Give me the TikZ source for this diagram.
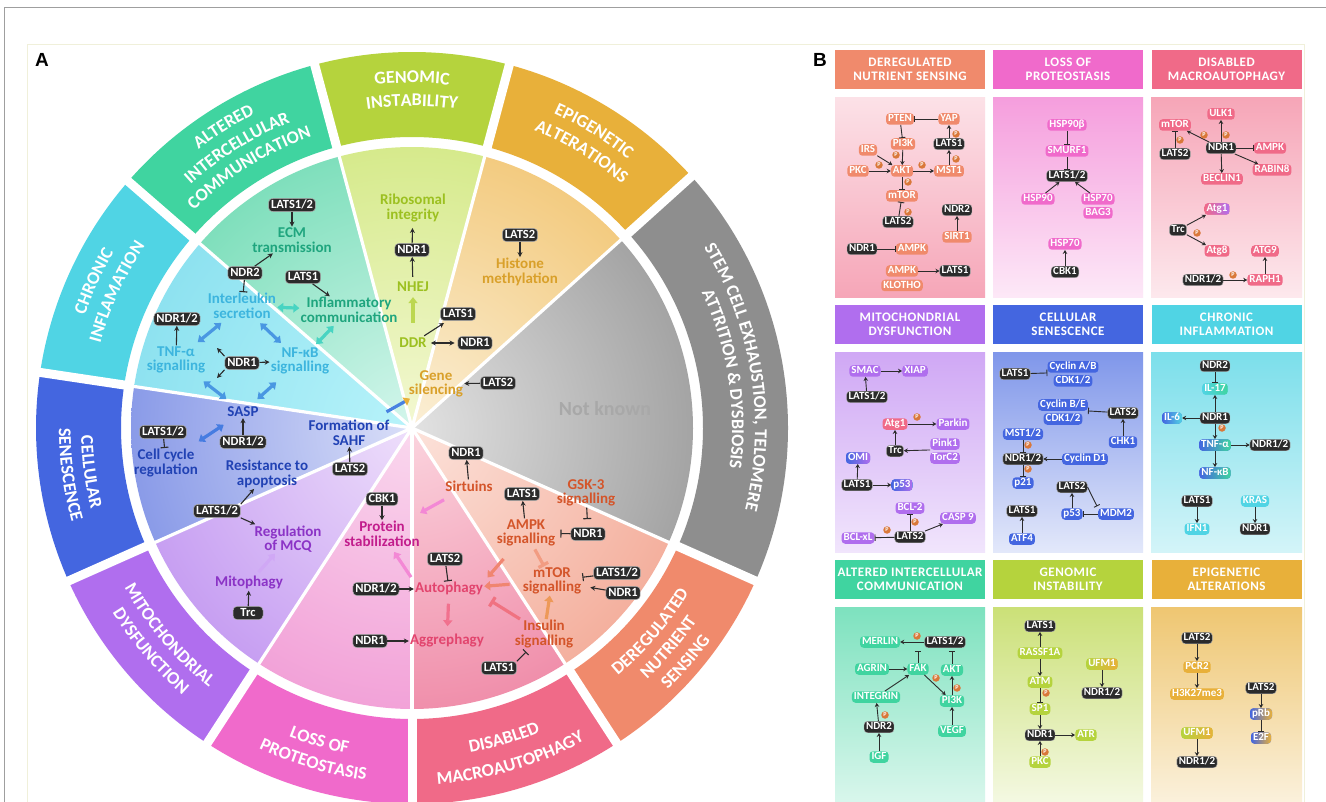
\documentclass[tikz,border=0pt]{standalone}
\usepackage{fontspec}
\setmainfont{Carlito}
\newfontfamily\hdrfam{Carlito}[LetterSpace=4]
\newfontfamily\panfam{Liberation Sans}
\usepackage{tikz}
\usetikzlibrary{arrows.meta,decorations.text}

\definecolor{kinase}{HTML}{2B2B2B}
\definecolor{phos}{HTML}{D9783A}
\definecolor{pale}{HTML}{F0F0DA}
\definecolor{genR}{HTML}{B5D33D}
\definecolor{epiR}{HTML}{E8B03A}
\definecolor{stmR}{HTML}{8E8E8E}
\definecolor{derR}{HTML}{F08A6C}
\definecolor{macR}{HTML}{F06A88}
\definecolor{proR}{HTML}{F06ACB}
\definecolor{mitR}{HTML}{B06EEE}
\definecolor{senR}{HTML}{4466E0}
\definecolor{chrR}{HTML}{50D4E4}
\definecolor{altR}{HTML}{40D4A0}
\definecolor{genT}{HTML}{9CC020}
\definecolor{epiT}{HTML}{D9A02A}
\definecolor{derT}{HTML}{D4552A}
\definecolor{macT}{HTML}{E2456E}
\definecolor{proT}{HTML}{C21D8C}
\definecolor{mitT}{HTML}{8B33C6}
\definecolor{senT}{HTML}{2142B4}
\definecolor{chrT}{HTML}{3DB5DE}
\definecolor{altT}{HTML}{1FA57E}
\definecolor{nkT}{HTML}{A8A8A8}

\newcommand\labfont{\fontsize{15}{14.5}\selectfont\bfseries}
\newcommand\kinfont{\fontsize{12.5}{12}\selectfont\bfseries}
\newcommand\boxfont{\fontsize{11}{10.5}\selectfont\bfseries}
\newcommand\hdrfont{\hdrfam\fontsize{13}{14}\selectfont\bfseries}
\newcommand\ringfont{\fontsize{18}{18}\selectfont\bfseries\color{white}}
\newcommand\phosfont{\fontsize{6}{6}\selectfont\bfseries}
\newcommand\nkfont{\fontsize{20}{20}\selectfont\bfseries}

\definecolor{wedgein}{HTML}{FFFFFF}
\definecolor{wedgeout}{HTML}{CCCCCC}
\pgfdeclareradialshading[wedgein,wedgeout]{wedge}{\pgfpointorigin}{color(0bp)=(wedgein); color(25bp)=(wedgeout); color(50bp)=(wedgeout)}

\newcommand\hallsector[5]{%
  \definecolor{wedgein}{HTML}{#3}\definecolor{wedgeout}{HTML}{#4}%
  \begin{scope}
    \clip (0,0) -- (#1:281) arc[start angle=#1, end angle=#2, radius=281] -- cycle;
    \shade[shading=wedge] (0,0) circle (281);
  \end{scope}
  \fill[#5] (#1:291) arc[start angle=#1, end angle=#2, radius=291]
    -- (#2:376) arc[start angle=#2, end angle=#1, radius=376] -- cycle;}
\newcommand\ringtext[4]{%
  \path[decorate, decoration={text along path, text align=center,
    text={|\ringfont|#4}}] (#2:#1) arc[start angle=#2, end angle=#3, radius=#1];}

\begin{document}
\begin{tikzpicture}[x=1pt, y=-1pt,
  lab/.style={font=\labfont, align=center, text=#1, inner sep=1pt},
  kin/.style={fill=kinase, draw=white!70!black, line width=0.5pt, text=white, rounded corners=4pt,
    font=\kinfont, inner xsep=2.5pt, inner ysep=1pt, text height=8.8pt, text depth=2.4pt},
  act/.style={draw=kinase, line width=1.1pt, -{Stealth[length=5pt,width=5pt]}},
  inh/.style={draw=kinase, line width=1.1pt, -{Bar[width=8pt]}},
  both/.style={draw=kinase, line width=1.1pt, {Stealth[length=5pt,width=5pt]}-{Stealth[length=5pt,width=5pt]}},
  fat/.style={draw=#1, line width=3.2pt, -{Triangle[length=6pt,width=9pt]}},
  fatd/.style={draw=#1, line width=3.2pt, {Triangle[length=6pt,width=9pt]}-{Triangle[length=6pt,width=9pt]}},
  fati/.style={draw=#1, line width=3.2pt, -{Bar[width=11pt]}},
  hdr/.style={fill=#1, text=white, font=\hdrfont, align=center, minimum width=150pt, minimum height=39pt, inner sep=0pt},
  pb/.style={fill=#1, text=white, rounded corners=3.5pt, font=\boxfont, inner xsep=2pt, inner ysep=0.7pt,
    text height=8pt, text depth=2.1pt},
  pbk/.style={pb=kinase, draw=white!70!black, line width=0.4pt},
  pbs/.style 2 args={pb=#1, left color=#1, right color=#2},
  ba/.style={draw=kinase, line width=0.9pt, -{Stealth[length=4pt,width=4.5pt]}},
  bi/.style={draw=kinase, line width=0.9pt, -{Bar[width=6.5pt]}},
  pho/.style={circle, fill=phos, text=white, font=\phosfont, inner sep=0pt, minimum size=7.5pt}]

\useasboundingbox (0,0) rectangle (1326,802);
\fill[white] (0,0) rectangle (1326,802);
\draw[gray!75, line width=1.5pt] (4.5,802) -- (4.5,7.5) -- (1326,7.5);
\draw[pale, line width=1pt] (27,802) -- (27,44.5) -- (1304,44.5) -- (1304,802);
\node[font=\panfam\fontsize{19}{19}\selectfont\bfseries] (pA) at (42,60) {A};
\node[font=\panfam\fontsize{19}{19}\selectfont\bfseries] (pB) at (820,60) {B};

\begin{scope}[shift={(412,428)}]
\hallsector{-105}{-75}{F3F8D2}{D6EA8C}{genR}
\hallsector{-75}{-42}{FBEFD6}{F3CB80}{epiR}
\hallsector{-42}{24}{E2E2E2}{A4A4A4}{stmR}
\hallsector{24}{57}{FCE2DA}{F4B09E}{derR}
\hallsector{57}{90}{FBD4DE}{F08FAB}{macR}
\hallsector{90}{123}{FAD8EE}{F2A2D8}{proR}
\hallsector{123}{156}{EEDFFB}{C79FF2}{mitR}
\hallsector{156}{188.5}{DADFF8}{8A9BE8}{senR}
\hallsector{188.5}{221}{B8F3FA}{8EE2F0}{chrR}
\hallsector{221}{255}{D4F6EC}{7FDFBC}{altR}
\draw[white, line width=3.2pt] (0,0) -- (-105:285);
\draw[white, line width=3.2pt] (0,0) -- (-75:285);
\draw[white, line width=3.2pt] (0,0) -- (-42:285);
\draw[white, line width=3.2pt] (0,0) -- (24:285);
\draw[white, line width=3.2pt] (0,0) -- (57:285);
\draw[white, line width=3.2pt] (0,0) -- (90:285);
\draw[white, line width=3.2pt] (0,0) -- (123:285);
\draw[white, line width=3.2pt] (0,0) -- (156:285);
\draw[white, line width=3.2pt] (0,0) -- (188.5:285);
\draw[white, line width=3.2pt] (0,0) -- (221:285);
\draw[white, line width=9pt] (-105:284) -- (-105:382);
\draw[white, line width=9pt] (-75:284) -- (-75:382);
\draw[white, line width=9pt] (-42:284) -- (-42:382);
\draw[white, line width=9pt] (24:284) -- (24:382);
\draw[white, line width=9pt] (57:284) -- (57:382);
\draw[white, line width=9pt] (90:284) -- (90:382);
\draw[white, line width=9pt] (123:284) -- (123:382);
\draw[white, line width=9pt] (156:284) -- (156:382);
\draw[white, line width=9pt] (188.5:284) -- (188.5:382);
\draw[white, line width=9pt] (221:284) -- (221:382);
\ringtext{345}{-105}{-75}{GENOMIC}
\ringtext{322}{-105}{-75}{INSTABILITY}
\ringtext{345}{-75}{-42}{EPIGENETIC}
\ringtext{322}{-75}{-42}{ALTERATIONS}
\ringtext{343}{-42}{24}{STEM CELL EXHAUSTION, TELOMERE}
\ringtext{320}{-42}{24}{ATTRITION {\&} DYSBIOSIS}
\ringtext{322}{57}{24}{DEREGULATED}
\ringtext{344}{57}{24}{NUTRIENT}
\ringtext{366}{57}{24}{SENSING}
\ringtext{330}{90}{57}{DISABLED}
\ringtext{357}{90}{57}{MACROAUTOPHAGY}
\ringtext{332}{123}{90}{LOSS OF}
\ringtext{355}{123}{90}{PROTEOSTASIS}
\ringtext{329}{156}{123}{MITOCHONDRIAL}
\ringtext{352}{156}{123}{DYSFUNCTION}
\ringtext{331}{188.5}{156}{CELLULAR}
\ringtext{353}{188.5}{156}{SENESCENCE}
\ringtext{346}{188.5}{221}{CHRONIC}
\ringtext{323}{188.5}{221}{INFLAMATION}
\ringtext{351}{221}{255}{ALTERED}
\ringtext{329}{221}{255}{INTERCELLULAR}
\ringtext{308}{221}{255}{COMMUNICATION}
\end{scope}

\node[lab=altT] (ecm) at (292,240) {ECM\\transmission};
\node[lab=altT] (infl) at (349,310) {Inflammatory\\communication};
\node[lab=chrT] (ilk) at (242,306) {Interleukin\\secretion};
\node[lab=chrT] (tnf) at (176,360) {TNF-α\\signalling};
\node[lab=chrT] (nfkb) at (300,361) {NF-κB\\signalling};
\node[lab=senT] (sasp) at (243,412) {SASP};
\node[lab=senT] (ccr) at (166,463) {Cell cycle\\regulation};
\node[lab=senT] (apo) at (267,474) {Resistance to\\apoptosis};
\node[lab=senT] (sahf) at (349,433) {Formation of\\SAHF};
\node[lab=mitT] (mcq) at (288,539) {Regulation\\of MCQ};
\node[lab=mitT] (mito) at (249,583) {Mitophagy};
\node[lab=proT] (pstab) at (382,534) {Protein\\stabilization};
\node[lab=macT] (auto) at (449,589) {Autophagy};
\node[lab=macT] (aggr) at (447,641) {Aggrephagy};
\node[lab=derT] (sirt) at (469,486) {Sirtuins};
\node[lab=derT] (gsk) at (586,493) {GSK-3\\signalling};
\node[lab=derT] (ampk) at (526,533) {AMPK\\signalling};
\node[lab=derT] (mtor) at (552,581) {mTOR\\signalling};
\node[lab=derT] (ins) at (544,634) {Insulin\\signalling};
\node[lab=genT] (ribo) at (413,208) {Ribosomal\\integrity};
\node[lab=genT] (nhej) at (413,287) {NHEJ};
\node[lab=genT] (ddr) at (413,343) {DDR};
\node[lab=epiT] (hist) at (520,272) {Histone\\methylation};
\node[lab=epiT] (gene) at (436,384) {Gene\\silencing};
\node[font=\nkfont, text=nkT] (nk) at (605,409) {Not known};

\node[kin] (k1) at (292,205) {LATS1/2};
\node[kin] (k2) at (245,273) {NDR2};
\node[kin] (k3) at (303,277) {LATS1};
\node[kin] (k4) at (177,319) {NDR1/2};
\node[kin] (k5) at (242,363) {NDR1};
\node[kin] (k6) at (412,250) {NDR1};
\node[kin] (k7) at (458,314) {LATS1};
\node[kin] (k8) at (475,343) {NDR1};
\node[kin] (k9) at (520,235) {LATS2};
\node[kin] (k10) at (498,383) {LATS2};
\node[kin] (k11) at (163,432) {LATS1/2};
\node[kin] (k12) at (243,442) {NDR1/2};
\node[kin] (k13) at (350,469) {LATS2};
\node[kin] (k14) at (217,511) {LATS1/2};
\node[kin, minimum width=30pt] (k15) at (248,613) {Trc};
\node[kin] (k16) at (382,499) {CBK1};
\node[kin] (k17) at (376,589) {NDR1/2};
\node[kin] (k18) at (370,641) {NDR1};
\node[kin] (k19) at (445,559) {LATS2};
\node[kin] (k20) at (466,453) {NDR1};
\node[kin] (k21) at (522,494) {LATS1};
\node[kin] (k22) at (588,534) {NDR1};
\node[kin] (k23) at (617,573) {LATS1/2};
\node[kin] (k24) at (623,593) {NDR1};
\node[kin] (k25) at (499,668) {LATS1};
\coordinate (n1up) at (217,348);
\coordinate (n1dn) at (217,378);

\draw[act] (k1) -- (ecm);
\draw[act] (k2) -- (ecm);
\draw[inh] (k2) -- (ilk);
\draw[act] (k3) -- (infl);
\draw[act] (tnf) -- (k4);
\draw[act] (k5.north west) -- (n1up);
\draw[act] (k5.south west) -- (n1dn);
\draw[act] (k5) -- (nfkb);
\draw[act] (k12) -- (sasp);
\draw[inh] (k11) -- (ccr);
\draw[act] (k13) -- (sahf);
\draw[act] (k14.north east) -- (apo);
\draw[act] (k14.south east) -- (mcq);
\draw[act] (k15) -- (mito);
\draw[act] (k16) -- (pstab);
\draw[act] (k17) -- (auto);
\draw[act] (k18) -- (aggr);
\draw[inh] (k19) -- (auto);
\draw[act] (sirt) -- (k20);
\draw[act] (ampk) -- (k21);
\draw[inh, shorten >=8pt] (gsk) -- (k22);
\draw[inh, shorten >=4pt] (k22) -- (ampk);
\draw[inh] (k23) -- (mtor);
\draw[act, shorten >=8pt] (k24) -- (mtor);
\draw[inh, shorten >=4pt] (k25.north east) -- (ins);
\draw[act, shorten >=5pt] (k6) -- (ribo);
\draw[act, shorten <=4pt] (nhej) -- (k6);
\draw[act, shorten <=2pt, shorten >=4pt] (ddr) -- (k7);
\draw[both, shorten <=3pt, shorten >=3pt] (ddr) -- (k8);
\draw[act] (k9) -- (hist);
\draw[act] (k10) -- (gene);

\draw[fatd=chrR!50!altR] (ilk) -- (infl);
\draw[fatd=senR!55!chrR, shorten <=5pt, shorten >=5pt] (ilk) -- (tnf);
\draw[fatd=senR!55!chrR, shorten <=5pt, shorten >=5pt] (ilk) -- (nfkb);
\draw[fatd=chrR!50!altR, shorten <=3pt, shorten >=3pt] (infl) -- (nfkb);
\draw[fatd=senR!55!chrR, shorten <=11pt, shorten >=11pt] (tnf) -- (sasp);
\draw[fatd=senR!55!chrR, shorten <=10pt, shorten >=10pt] (nfkb) -- (sasp);
\draw[fatd=senR!80!chrR, shorten <=12pt, shorten >=12pt] (ccr) -- (sasp);
\draw[fat=mitR!60, shorten <=4pt] (mito) -- (mcq);
\draw[draw=senR!75!chrR, line width=3.2pt, -{Triangle[length=6pt,width=9pt,color=epiR]}, shorten <=15pt] (sahf) -- (gene);
\draw[fat=proR!80, shorten <=5pt, shorten >=5pt] (auto.north west) -- (pstab);
\draw[fat=proR!80, shorten <=15pt, shorten >=15pt] (sirt) -- (pstab);
\draw[fat=macR!95, shorten <=7pt, shorten >=7pt] (auto) -- (aggr);
\draw[fat=derR!85!macR, shorten <=12pt] (mtor) -- (auto);
\draw[fat=derR!85!macR, shorten <=15pt, shorten >=5pt] (ampk) -- (auto.north east);
\draw[fati=macR!75!derR, shorten >=8pt] (ins) -- (auto.south east);
\draw[fati=derR!85, shorten <=2pt] (ampk) -- (mtor);
\draw[fat=derR!60!epiR] (ins) -- (mtor);
\draw[fat=genR!90, shorten <=14pt, shorten >=4pt] (ddr) -- (nhej);

\node[hdr=derR] (hd1) at (910,69.5) {DEREGULATED\\NUTRIENT SENSING};
\node[hdr=proR] (hd2) at (1068,69.5) {LOSS OF\\PROTEOSTASIS};
\node[hdr=macR] (hd3) at (1226.5,69.5) {DISABLED\\MACROAUTOPHAGY};
\node[hdr=mitR] (hd4) at (910,324.5) {MITOCHONDRIAL\\DYSFUNCTION};
\node[hdr=senR] (hd5) at (1068,324.5) {CELLULAR\\SENESCENCE};
\node[hdr=chrR] (hd6) at (1226.5,324.5) {CHRONIC\\INFLAMMATION};
\node[hdr=altR] (hd7) at (910,579.5) {ALTERED INTERCELLULAR\\COMMUNICATION};
\node[hdr=genR] (hd8) at (1068,579.5) {GENOMIC\\INSTABILITY};
\node[hdr=epiR] (hd9) at (1226.5,579.5) {EPIGENETIC\\ALTERATIONS};
\shade[top color=macR!20, bottom color=macR!60] (835,98) rectangle (985,298);
\shade[top color=proR!65, bottom color=proR!15] (993,98) rectangle (1143,298);
\shade[top color=macR!60, bottom color=macR!15] (1151,98) rectangle (1302,298);
\shade[top color=mitR!60, bottom color=mitR!18] (835,353) rectangle (985,552);
\shade[top color=senR!68, bottom color=senR!15] (993,353) rectangle (1143,552);
\shade[top color=chrR!75, bottom color=chrR!25] (1151,353) rectangle (1302,552);
\shade[top color=altR!68, bottom color=altR!20] (835,607) rectangle (985,802);
\shade[top color=genR!70, bottom color=genR!15] (993,607) rectangle (1143,802);
\shade[top color=epiR!72, bottom color=epiR!18] (1151,607) rectangle (1302,802);

\node[pb=derR] (b1pten) at (900,119) {PTEN};
\node[pb=derR] (b1yap) at (949,119) {YAP};
\node[pb=derR] (b1pi3k) at (903,144) {PI3K};
\node[pbk] (b1lats1) at (949,144) {LATS1};
\node[pb=derR] (b1irs) at (868,150) {IRS};
\node[pb=derR] (b1pkc) at (858,171) {PKC};
\node[pb=derR] (b1akt) at (902,171) {AKT};
\node[pb=derR] (b1mst1) at (949,171) {MST1};
\node[pb=derR] (b1mtor) at (902,196) {mTOR};
\node[pbk] (b1lats2) at (898,222) {LATS2};
\node[pbk] (b1ndr2) at (957,210) {NDR2};
\node[pb=derR] (b1sirt) at (957,237) {SIRT1};
\node[pbk] (b1ndr1) at (862,249) {NDR1};
\node[pb=derR] (b1ampk) at (912,249) {AMPK};
\node[pb=derR] (b1ampk2) at (902,271) {AMPK};
\node[pb=derR] (b1klo) at (902,285.5) {KLOTHO};
\node[pbk] (b1lats1b) at (955,271) {LATS1};
\draw[bi] (b1yap) -- (b1pten);
\draw[bi] (b1pten) -- (b1pi3k);
\draw[ba] (b1lats1) -- (b1yap);
\draw[ba] (b1irs) -- (b1akt);
\draw[ba] (b1pkc) -- (b1akt);
\draw[ba] (b1pi3k) -- (b1akt);
\draw[ba] (b1akt) -- (b1mst1);
\draw[ba] (b1mst1) -- (b1lats1);
\draw[bi] (b1akt) -- (b1mtor);
\draw[bi] (b1lats2) -- (b1mtor);
\draw[ba] (b1sirt) -- (b1ndr2);
\draw[bi] (b1ndr1) -- (b1ampk);
\draw[ba] (b1ampk2) -- (b1lats1b);
\node[pho] (ph1) at (956,134) {P};
\node[pho] (ph2) at (879,165) {P};
\node[pho] (ph3) at (896,155) {P};
\node[pho] (ph4) at (922,165) {P};
\node[pho] (ph5) at (956,159) {P};
\node[pho] (ph6) at (908,182) {P};
\node[pho] (ph7) at (908,212) {P};

\node[pb=proR] (b2h90b) at (1067,125) {HSP90β};
\node[pb=proR] (b2smurf) at (1067,151) {SMURF1};
\node[pbk] (b2lats) at (1067,176) {LATS1/2};
\node[pb=proR] (b2h90) at (1038,199) {HSP90};
\node[pb=proR] (b2h70) at (1098,199) {HSP70};
\node[pb=proR] (b2bag) at (1098,213) {BAG3};
\node[pb=proR] (b2h70b) at (1065,244) {HSP70};
\node[pbk] (b2cbk) at (1065,272) {CBK1};
\draw[bi] (b2h90b) -- (b2smurf);
\draw[bi] (b2smurf) -- (b2lats);
\draw[ba] (b2h90) -- (b2lats);
\draw[ba] (b2h70) -- (b2lats);
\draw[ba] (b2cbk) -- (b2h70b);

\node[pb=macR] (b3ulk) at (1221,114) {ULK1};
\node[pb=macR] (b3mtor) at (1175,125) {mTOR};
\node[pbk] (b3ndr1) at (1221,148) {NDR1};
\node[pbk] (b3lats2) at (1175,154) {LATS2};
\node[pb=macR] (b3ampk) at (1270,148) {AMPK};
\node[pb=macR] (b3rab) at (1272,170) {RABIN8};
\node[pb=macR] (b3bec) at (1222,179) {BECLIN1};
\node[pbs={macR}{mitR}] (b3atg1) at (1217,209) {Atg1};
\node[pbk] (b3trc) at (1178,230) {Trc};
\node[pb=macR] (b3atg8) at (1217,251) {Atg8};
\node[pb=macR] (b3atg9) at (1265,251) {ATG9};
\node[pbk] (b3ndr12) at (1203,280) {NDR1/2};
\node[pb=macR] (b3raph) at (1265,280) {RAPH1};
\draw[bi] (b3lats2) -- (b3mtor);
\draw[ba] (b3ndr1) -- (b3mtor);
\draw[ba] (b3ndr1) -- (b3ulk);
\draw[bi] (b3ndr1) -- (b3ampk);
\draw[ba] (b3ndr1) -- (b3rab);
\draw[ba] (b3ndr1) -- (b3bec);
\draw[ba] (b3trc) -- (b3atg1);
\draw[ba] (b3trc) -- (b3atg8);
\draw[ba] (b3ndr12) -- (b3raph);
\draw[ba] (b3raph) -- (b3atg9);
\node[pho] (ph8) at (1180,140) {P};
\node[pho] (ph9) at (1204,135) {P};
\node[pho] (ph10) at (1226,135) {P};
\node[pho] (ph11) at (1197,233) {P};
\node[pho] (ph12) at (1233,275) {P};

\node[pb=mitR] (b4smac) at (865,371) {SMAC};
\node[pb=mitR] (b4xiap) at (915,371) {XIAP};
\node[pbk] (b4lats12) at (867,397) {LATS1/2};
\node[pb=macR] (b4atg1) at (895,424) {Atg1};
\node[pb=mitR] (b4park) at (953,424) {Parkin};
\node[pbk] (b4trc) at (895,451) {Trc};
\node[pb=mitR] (b4pink) at (945,444) {Pink1};
\node[pb=mitR] (b4torc) at (945,458) {TorC2};
\node[pbs={senR}{mitR}] (b4omi) at (858,458) {OMI};
\node[pbk] (b4lats1) at (857,485) {LATS1};
\node[pbs={senR}{mitR}] (b4p53) at (902,485) {p53};
\node[pb=mitR] (b4bcl2) at (910,508) {BCL-2};
\node[pbk] (b4lats2) at (910,537) {LATS2};
\node[pb=mitR] (b4bclxl) at (858,538) {BCL-xL};
\node[pb=mitR] (b4casp) at (958,518) {CASP 9};
\draw[ba] (b4smac) -- (b4xiap);
\draw[ba] (b4lats12) -- (b4smac);
\draw[ba] (b4atg1) -- (b4park);
\draw[ba] (b4trc) -- (b4atg1);
\draw[ba] (b4pink.south west) -- (b4trc);
\draw[ba] (b4lats1) -- (b4omi);
\draw[ba] (b4lats1) -- (b4p53);
\draw[bi] (b4lats2) -- (b4bcl2);
\draw[bi] (b4lats2) -- (b4bclxl);
\draw[ba] (b4lats2) -- (b4casp);
\node[pho] (ph13) at (917,417) {P};
\node[pho] (ph14) at (915,522) {P};
\node[pho] (ph15) at (887,530) {P};

\node[pbk] (b5lats1) at (1015,374) {LATS1};
\node[pb=senR] (b5cab) at (1073,367) {Cyclin A/B};
\node[pb=senR] (b5cdk) at (1073,381) {CDK1/2};
\node[pb=senR] (b5cbe) at (1063,405) {Cyclin B/E};
\node[pb=senR] (b5cdk2) at (1063,419) {CDK1/2};
\node[pbk] (b5lats2) at (1123,413) {LATS2};
\node[pb=senR] (b5chk) at (1123,442) {CHK1};
\node[pb=senR] (b5mst) at (1023,434) {MST1/2};
\node[pbk] (b5ndr) at (1023,459) {NDR1/2};
\node[pb=senR] (b5cd1) at (1085,459) {Cyclin D1};
\node[pb=senR] (b5p21) at (1023,483) {p21};
\node[pbk] (b5lats2b) at (1072,487) {LATS2};
\node[pb=senR] (b5p53) at (1072,514) {p53};
\node[pb=senR] (b5mdm) at (1116,514) {MDM2};
\node[pbk] (b5lats1b) at (1022,511) {LATS1};
\node[pb=senR] (b5atf) at (1022,539) {ATF4};
\draw[bi] (b5lats1) -- (b5cab.south west);
\draw[bi] (b5lats2) -- (b5cbe.south east);
\draw[ba] (b5chk) -- (b5lats2);
\draw[bi] (b5mst) -- (b5ndr);
\draw[ba] (b5cd1) -- (b5ndr);
\draw[bi] (b5ndr) -- (b5p21);
\draw[ba] (b5p53) -- (b5lats2b);
\draw[bi] (b5mdm) -- (b5p53);
\draw[bi, shorten >=2pt] (b5lats2b.east) -- (b5mdm.north west);
\draw[ba] (b5atf) -- (b5lats1b);
\node[pho] (ph16) at (1028,445) {P};
\node[pho] (ph17) at (1028,469) {P};

\node[pbk] (b6ndr2) at (1215,366) {NDR2};
\node[pbs={chrR}{altR}] (b6il17) at (1215,389) {IL-17};
\node[pbk] (b6ndr1) at (1215,418) {NDR1};
\node[pbs={senR}{chrR}] (b6il6) at (1172,418) {IL-6};
\node[pbs={senR}{altR}] (b6tnf) at (1215,445) {TNF-α};
\node[pbk] (b6ndr12) at (1270,445) {NDR1/2};
\node[pbs={senR}{altR}] (b6nfkb) at (1215,473) {NF-κB};
\node[pbk] (b6lats1) at (1197,501) {LATS1};
\node[pb=chrR] (b6ifn) at (1197,529) {IFN1};
\node[pb=chrR] (b6kras) at (1255,501) {KRAS};
\node[pbk] (b6ndr1b) at (1255,529) {NDR1};
\draw[bi] (b6ndr2) -- (b6il17);
\draw[ba] (b6ndr1) -- (b6il17);
\draw[ba] (b6ndr1) -- (b6il6);
\draw[ba] (b6ndr1) -- (b6tnf);
\draw[ba] (b6tnf) -- (b6ndr12);
\draw[ba] (b6tnf) -- (b6nfkb);
\draw[ba] (b6lats1) -- (b6ifn);
\draw[ba] (b6kras) -- (b6ndr1b);
\node[pho] (ph18) at (1222,428) {P};

\node[pb=altR] (b7mer) at (880,642) {MERLIN};
\node[pbk] (b7lats) at (945,642) {LATS1/2};
\node[pb=altR] (b7agr) at (872,669) {AGRIN};
\node[pb=altR] (b7fak) at (918,669) {FAK};
\node[pb=altR] (b7akt) at (952,670) {AKT};
\node[pb=altR] (b7int) at (876,697) {INTEGRIN};
\node[pb=altR] (b7pi3k) at (952,701) {PI3K};
\node[pbk] (b7ndr2) at (879,727) {NDR2};
\node[pb=altR] (b7vegf) at (952,731) {VEGF};
\node[pb=altR] (b7igf) at (879,757) {IGF};
\coordinate (b7c1) at (918,651);
\coordinate (b7c2) at (952,651);
\draw[ba] (b7lats) -- (b7mer);
\draw[bi] (b7fak) -- (b7c1);
\draw[bi] (b7akt) -- (b7c2);
\draw[ba] (b7agr) -- (b7fak);
\draw[ba] (b7int) -- (b7fak);
\draw[ba] (b7fak) -- (b7pi3k);
\draw[ba] (b7pi3k) -- (b7akt);
\draw[ba] (b7ndr2) -- (b7int);
\draw[ba] (b7vegf) -- (b7pi3k);
\draw[ba] (b7igf) -- (b7ndr2);
\node[pho] (ph19) at (917,636) {P};
\node[pho] (ph20) at (936,678) {P};
\node[pho] (ph21) at (957,688) {P};
\node[pho] (ph22) at (885,715) {P};

\node[pbk] (b8lats1) at (1040,626) {LATS1};
\node[pb=genR] (b8rass) at (1040,653) {RASSF1A};
\node[pb=genR] (b8atm) at (1040,682) {ATM};
\node[pb=genR] (b8sp1) at (1040,709) {SP1};
\node[pbk] (b8ndr1) at (1040,735) {NDR1};
\node[pb=genR] (b8atr) at (1086,735) {ATR};
\node[pb=genR] (b8pkc) at (1040,762) {PKC};
\node[pbs={genR}{epiR}] (b8ufm) at (1102,664) {UFM1};
\node[pbk] (b8ndr12) at (1102,693) {NDR1/2};
\draw[ba] (b8rass) -- (b8lats1);
\draw[ba] (b8rass) -- (b8atm);
\draw[bi] (b8atm) -- (b8sp1);
\draw[ba] (b8sp1) -- (b8ndr1);
\draw[ba] (b8ndr1) -- (b8atr);
\draw[ba] (b8pkc) -- (b8ndr1);
\draw[ba] (b8ufm) -- (b8ndr12);
\node[pho] (ph23) at (1046,693) {P};
\node[pho] (ph24) at (1045,752) {P};

\node[pbk] (b9lats2) at (1197,638) {LATS2};
\node[pb=epiR] (b9pcr) at (1197,667) {PCR2};
\node[pb=epiR] (b9h3) at (1197,694) {H3K27me3};
\node[pbk] (b9lats2b) at (1261,688) {LATS2};
\node[pbs={senR}{epiR}] (b9prb) at (1261,714) {pRb};
\node[pbs={senR}{epiR}] (b9e2f) at (1261,738) {E2F};
\node[pbs={genR}{epiR}] (b9ufm) at (1197,733) {UFM1};
\node[pbk] (b9ndr12) at (1197,762) {NDR1/2};
\draw[ba] (b9lats2) -- (b9pcr);
\draw[ba] (b9pcr) -- (b9h3);
\draw[ba] (b9lats2b) -- (b9prb);
\draw[bi] (b9prb) -- (b9e2f);
\draw[ba] (b9ufm) -- (b9ndr12);
\end{tikzpicture}
\end{document}
